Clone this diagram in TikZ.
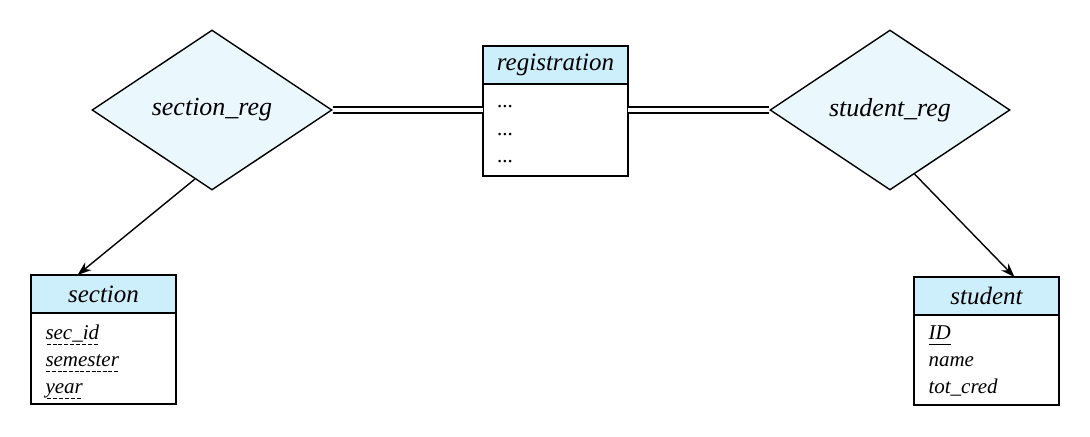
\documentclass[tikz,border=0pt]{standalone}
\usepackage{fontspec}
\setmainfont{Liberation Serif}
\usepackage{tikz}
\usetikzlibrary{positioning,shapes.geometric,arrows.meta}
\definecolor{headblue}{RGB}{205,238,251}
\definecolor{relblue}{RGB}{234,248,254}
\newcommand\dashul[1]{\leavevmode\setbox0\hbox{#1}\rlap{\lower2.4pt\hbox to\wd0{\xleaders\hbox to 2.8pt{\hss\vrule width 2pt height 0.45pt\hss}\hfil}}\box0}
\newcommand\solidul[1]{\leavevmode\setbox0\hbox{#1}\rlap{\lower2.4pt\hbox{\vrule width\wd0 height 0.45pt}}\box0}

\begin{document}
\begin{tikzpicture}[x=0.5pt, y=-0.5pt, line width=0.7pt, node distance=0pt,
    head/.style={draw, fill=headblue, minimum width=72.5pt, minimum height=19pt, inner sep=0pt, outer sep=0pt, anchor=north west, font=\fontsize{12.5}{15}\selectfont\itshape},
    body/.style={draw, fill=white, text width=58pt, inner xsep=7.25pt, inner ysep=0pt, outer sep=0pt, text height=13.5pt, text depth=32pt, align=left, font=\fontsize{10.5}{13.5}\selectfont\itshape},
    rel/.style={diamond, draw, fill=relblue, minimum width=120pt, minimum height=80pt, inner sep=0pt, font=\fontsize{13}{15}\selectfont\itshape}]

        \useasboundingbox (0,0) rectangle (1090,437);

        % 联系集
        \node (secreg) [rel] at (212,110) {section\_reg};
        \node (streg) [rel] at (890,110) {student\_reg};

        % 实体集
        \node (reghead) [head] at (483,46) {registration};
        \node (regbody) [body, below=of reghead, text height=12pt, text depth=34pt, font=\fontsize{10.5}{13.75}\selectfont\itshape] {...\\...\\...};
        \node (sechead) [head] at (31,275) {section};
        \node (secbody) [body, below=of sechead] {\dashul{sec\_id}\\\dashul{semester}\\\dashul{year}};
        \node (studhead) [head] at (914,277) {student};
        \node (studbody) [body, below=of studhead, text height=12.5pt, text depth=32.5pt] {\solidul{ID}\\name\\tot\_cred};

        \draw[double, double distance=2.2pt] (secreg.east) -- (secreg.east -| regbody.west);
        \draw[double, double distance=2.2pt] (streg.west -| regbody.east) -- (streg.west);
        \draw[-{Stealth[length=7pt, width=5pt]}] (secreg.256) -- ([xshift=-13pt]sechead.north);
        \draw[-{Stealth[length=7pt, width=5pt]}] (streg.291) -- ([xshift=14pt]studhead.north);

    \end{tikzpicture}
\end{document}
